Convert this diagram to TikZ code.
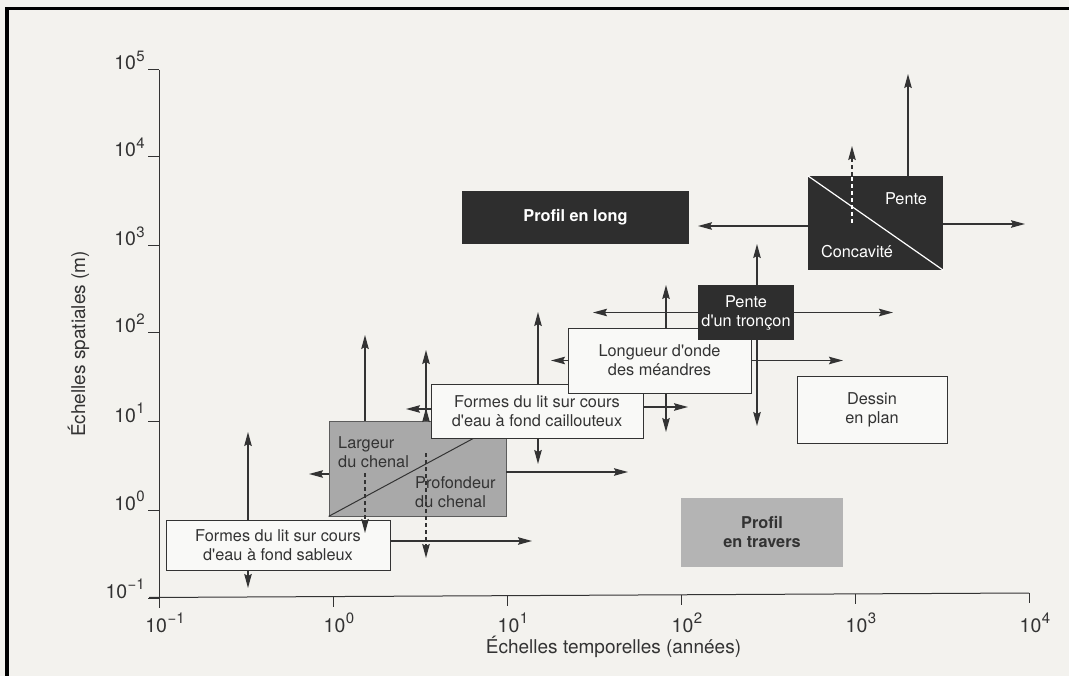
\documentclass[tikz,border=0pt]{standalone}
\usepackage{fontspec}
\setmainfont{TeX Gyre Heros}
\usetikzlibrary{arrows.meta}
\definecolor{bg}{HTML}{F3F2EE}
\definecolor{ink}{HTML}{333333}
\definecolor{darkfill}{HTML}{2E2E2E}
\definecolor{midgray}{HTML}{A9A9A9}
\definecolor{lgray}{HTML}{B4B4B4}
\definecolor{boxwhite}{HTML}{F9F9F7}
\newcommand{\ps}[1]{\hspace{0.5pt}\raisebox{0.45em}{\fontsize{15}{15}\selectfont #1}}
\newcommand{\ap}{\textquotesingle}
\begin{document}
\begin{tikzpicture}[x=1pt,y=-1pt,
  lbl/.style={font=\fontsize{16.3}{19}\selectfont, text=ink, align=center, inner sep=0pt},
  wbox/.style={lbl, draw=ink, line width=0.9pt, fill=boxwhite},
  dbox/.style={lbl, fill=darkfill, text=white},
  arr/.style={draw=ink, line width=1.4pt, -{Stealth[length=14pt,width=7.5pt,inset=2pt]}},
  darr/.style={arr, dash pattern=on 4pt off 3pt},
  tickline/.style={draw=ink, line width=1pt},
  ticklbl/.style={font=\fontsize{19.5}{19.5}\selectfont, text=ink, inner sep=0pt}
]
\fill[bg] (0,0) rectangle (1069,676);
\useasboundingbox (0,0) rectangle (1069,676);
% frame
\fill[black] (5,7) rectangle (9,676);
\fill[black] (5,7) rectangle (1069,10);

% axes
\draw[tickline] (159,70) -- (159,605);
\draw[tickline] (149,597.5) -- (1029,593);
\foreach \yy/\ee/\nn in {70/5/a,157/4/b,246/3/c,333/2/d,422/1/e,510/0/f,598/{−1}/g}{
  \draw[tickline] (148,\yy) -- (159,\yy);
  \node[ticklbl, anchor=base east] (ylab\nn) at (145,\yy) {10\ps{\ee}};
}
\foreach \xx/\yy/\ee/\nn in {159/597.5/{−1}/a,333/596.6/0/b,507/595.7/1/c,681/594.8/2/d,855/593.9/3/e,1029/593/4/f}{
  \draw[tickline] (\xx,\yy) -- (\xx,\yy+10);
  \node[ticklbl, anchor=base] (xlab\nn) at (\xx+6,632) {10\ps{\ee}};
}
\node[ticklbl, font=\fontsize{19}{19}\selectfont, rotate=90, anchor=base west] (ytitle) at (85,437) {Échelles spatiales (m)};
\node[ticklbl, font=\fontsize{19}{19}\selectfont, anchor=base] (xtitle) at (613.5,653) {Échelles temporelles (années)};

% boxes
\node[lbl, fill=midgray, draw=ink!80, line width=0.8pt, minimum width=177pt, minimum height=95pt] (gr) at (417.5,468.5) {};
\draw[ink, line width=1pt] (gr.south west) -- (gr.north east);
\node[lbl, anchor=west, align=left] (larg) at (338,452) {Largeur\\du chenal};
\node[lbl, anchor=west, align=left] (prof) at (415,492) {Profondeur\\du chenal};

\node[wbox, minimum width=212pt, minimum height=54pt] (fc) at (537,411) {Formes du lit sur cours\\d\ap eau à fond caillouteux};
\node[wbox, minimum width=183pt, minimum height=65pt] (lo) at (659.5,360.5) {Longueur d\ap onde\\des méandres};
\node[dbox, minimum width=96pt, minimum height=55pt] (pt) at (746,312.5) {Pente\\d\ap un tronçon};
\node[dbox, minimum width=227pt, minimum height=53pt, font=\bfseries\fontsize{16.3}{19}\selectfont] (pl) at (575.5,217.5) {Profil en long};
\node[dbox, minimum width=135pt, minimum height=94pt] (pc) at (875.5,223) {};
\draw[white, line width=1.2pt] (pc.north west) -- (pc.south east);
\node[lbl, text=white] (pente) at (906,199) {Pente};
\node[lbl, text=white] (conc) at (857,252) {Concavité};
\node[wbox, minimum width=150pt, minimum height=67pt] (dp) at (872,409.5) {Dessin\\en plan};
\node[wbox, minimum width=224pt, minimum height=50pt] (fs) at (278,545) {Formes du lit sur cours\\d\ap eau à fond sableux};
\node[lbl, fill=lgray, minimum width=162pt, minimum height=69pt, font=\bfseries\fontsize{16.3}{19}\selectfont] (pv) at (762,532.5) {Profil\\en travers};

% connectors
\draw[arr] (908,0 |- pc.north) -- (908,74);
\draw[darr] (852,0 |- pc.north) -- (852,146);
\draw[white, line width=1.3pt, dash pattern=on 4pt off 3pt] (852,223) -- (852,0 |- pc.north);
\draw[arr] (pc.west |- 0,226) -- (698,226);
\draw[arr] (pc.east |- 0,224) -- (1025,224);
\draw[arr] (757,0 |- pt.north) -- (757,244);
\draw[arr] (pt.west) -- (593,312.5);
\draw[arr] (pt.east) -- (893,312.5);
\draw[arr] (757,0 |- pt.south) -- (757,426);
\draw[arr] (666,0 |- lo.north) -- (666,285);
\draw[arr] (lo.west) -- (551,360.5);
\draw[arr] (lo.east) -- (843,360.5);
\draw[arr] (666,0 |- lo.south) -- (666,432);
\draw[arr] (538,0 |- fc.north) -- (538,312);
\draw[arr] (fc.east |- 0,407) -- (688,407);
\draw[arr] (538,0 |- fc.south) -- (538,464);
\draw[arr] (fc.west |- 0,409) -- (406,409);
\draw[arr] (365,0 |- gr.north) -- (365,335);
\draw[arr] (426,0 |- gr.north) -- (426,350);
\draw[arr] (426,0 |- gr.north) -- (426,408);
\draw[arr] (gr.west |- 0,474) -- (309,474);
\draw[arr] (gr.east |- 0,472) -- (628,472);
\draw[darr] (365,473) -- (365,533);
\draw[darr] (426,453) -- (426,558);
\draw[arr] (248,0 |- fs.north) -- (248,432);
\draw[arr] (248,0 |- fs.south) -- (248,588);
\draw[arr] (fs.east |- 0,541) -- (532,541);
\end{tikzpicture}
\end{document}
